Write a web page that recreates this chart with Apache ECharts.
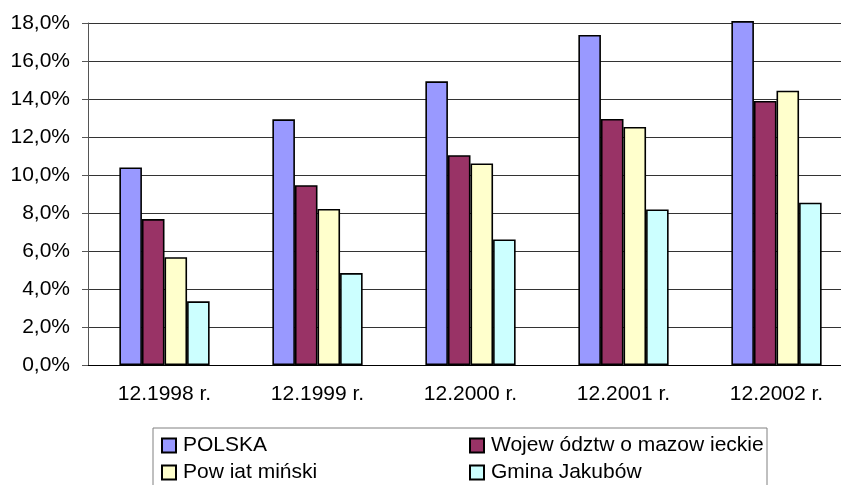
<!DOCTYPE html>
<html>
<head>
<meta charset="utf-8">
<script src="https://cdn.jsdelivr.net/npm/echarts@6/dist/echarts.min.js"></script>
<style>
  html, body { margin: 0; padding: 0; background: #fff; }
  #chart { width: 841px; height: 485px; }
</style>
</head>
<body>
<div id="chart"></div>
<script>
(function() {
  var myChart = echarts.init(document.getElementById('chart'));

  // dane (wartości w %)
  var categories = ['12.1998 r.', '12.1999 r.', '12.2000 r.', '12.2001 r.', '12.2002 r.'];
  var seriesNames = ['POLSKA', 'Wojew ództw o mazow ieckie', 'Pow iat miński', 'Gmina Jakubów'];
  var polska = [10.4, 12.93, 14.93, 17.37, 18.1];
  var wojewodztwo = [7.68, 9.46, 11.04, 12.95, 13.9];
  var powiat = [5.67, 8.21, 10.61, 12.53, 14.44];
  var gmina = [3.35, 4.84, 6.61, 8.19, 8.54];
  var colors = ['#9999ff', '#993366', '#ffffcc', '#ccffff'];

  var font = 'Liberation Sans, Arial, sans-serif';

  function bar(name, data, color) {
    return {
      name: name,
      type: 'bar',
      data: data,
      barGap: 0,
      barCategoryGap: '41%',
      clip: false,
      itemStyle: {
        color: color,
        borderColor: '#000',
        borderWidth: 1.6
      }
    };
  }

  var legendCommon = {
    orient: 'vertical',
    padding: 0,
    itemWidth: 14,
    itemHeight: 14,
    itemGap: 6,
    icon: 'rect',
    textStyle: { color: '#000', fontSize: 21, fontFamily: font, lineHeight: 20, padding: [0, 0, 0, 2] },
    selectedMode: false
  };

  var option = {
    backgroundColor: '#fff',
    animation: false,
    grid: {
      left: 88,
      top: 23,
      width: 765,
      height: 342,
      outerBoundsMode: 'none'
    },
    legend: [
      Object.assign({ left: 161, top: 435, data: [seriesNames[0], seriesNames[2]] }, legendCommon),
      Object.assign({ left: 469, top: 435, data: [seriesNames[1], seriesNames[3]] }, legendCommon)
    ],
    graphic: [{
      type: 'rect',
      shape: { x: 153, y: 428, width: 614, height: 80 },
      style: { fill: 'none', stroke: '#808080', lineWidth: 1 },
      silent: true
    }],
    xAxis: {
      type: 'category',
      data: categories,
      axisLine: { lineStyle: { color: '#000', width: 1 } },
      axisTick: { length: 5, lineStyle: { color: '#555' } },
      axisLabel: { color: '#000', fontSize: 21, fontFamily: font, margin: 19 }
    },
    yAxis: {
      type: 'value',
      min: 0,
      max: 18,
      interval: 2,
      axisLine: { show: true, lineStyle: { color: '#555', width: 1 } },
      axisTick: { show: true, length: 6, lineStyle: { color: '#555' } },
      axisLabel: {
        color: '#000',
        fontSize: 21,
        fontFamily: font,
        margin: 18,
        formatter: function(v) { return v.toFixed(1).replace('.', ',') + '%'; }
      },
      splitLine: { lineStyle: { color: '#333', width: 1 } }
    },
    series: [
      bar(seriesNames[0], polska, colors[0]),
      bar(seriesNames[1], wojewodztwo, colors[1]),
      bar(seriesNames[2], powiat, colors[2]),
      bar(seriesNames[3], gmina, colors[3])
    ]
  };

  myChart.setOption(option);
  window.addEventListener('resize', function() {
    myChart.resize();
  });
})();
</script>
</body>
</html>
